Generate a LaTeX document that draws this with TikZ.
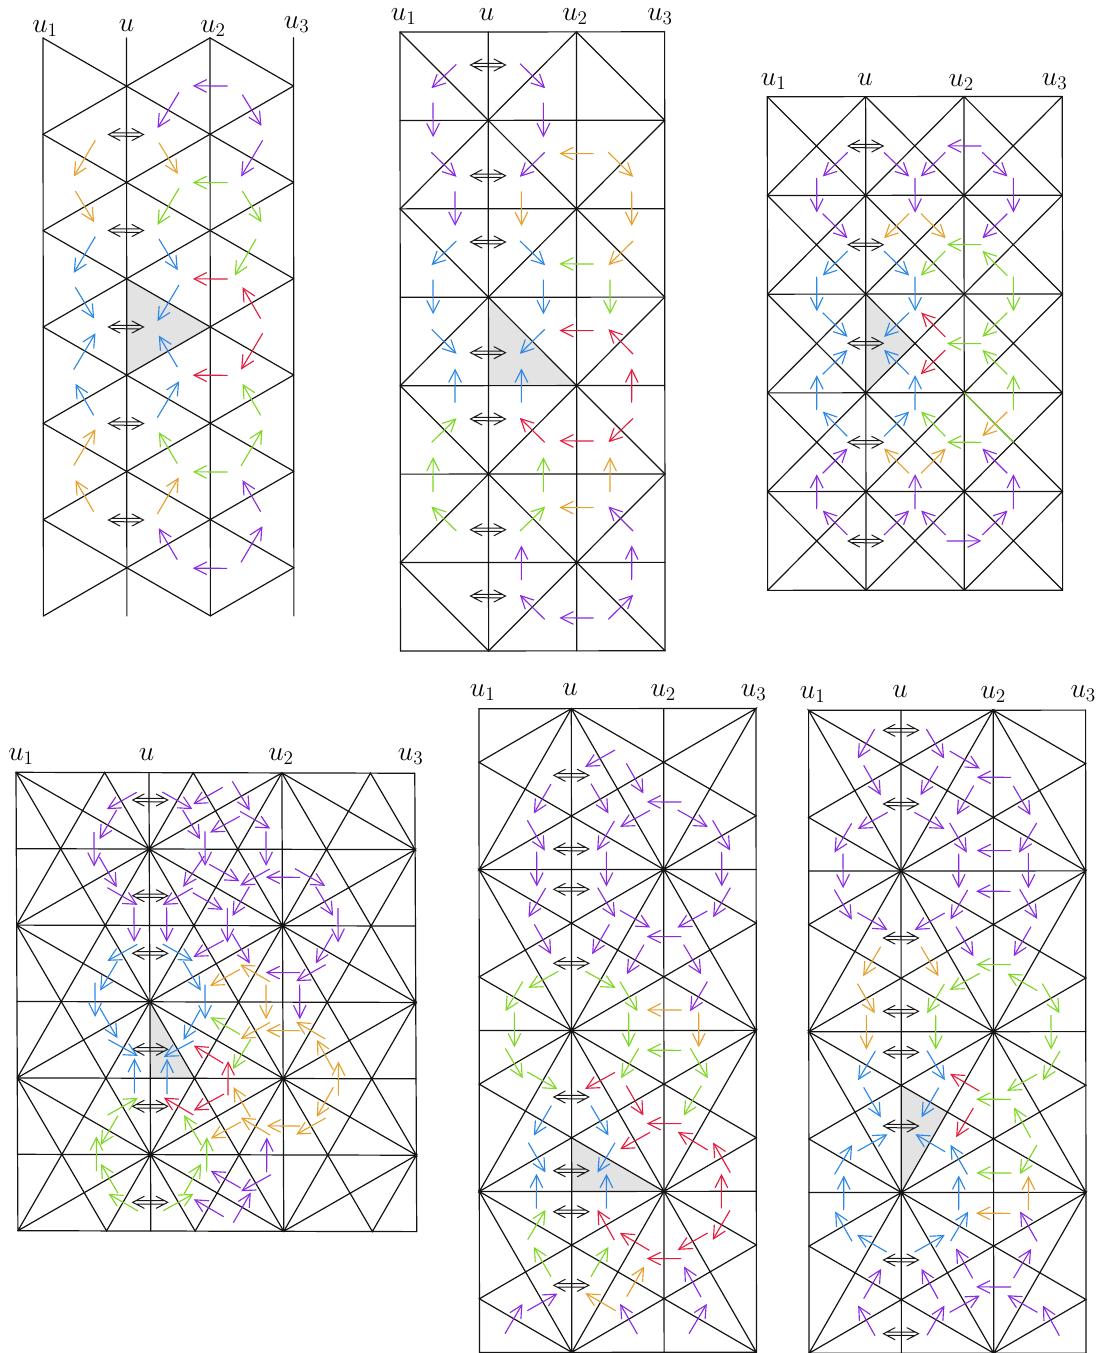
\documentclass[tikz,border=0pt]{standalone}
\usetikzlibrary{arrows.meta}
\definecolor{cpur}{RGB}{138,43,226}
\definecolor{cora}{RGB}{230,160,45}
\definecolor{cgrn}{RGB}{125,215,35}
\definecolor{cblu}{RGB}{45,135,230}
\definecolor{cred}{RGB}{228,28,62}
\definecolor{cgray}{RGB}{227,227,227}
\tikzset{
  gridline/.style={draw=black!92,line width=0.9pt,line cap=round,rotate=0.04},
  arrowline/.style={line width=0.85pt,-{Straight Barb[length=9.5pt,width=9.5pt,line width=0.85pt]}},
  biarrow/.style={draw=black!90,line width=0.75pt,line cap=round,line join=miter},
  shade/.style={fill=cgray,draw=none},
  lab/.style={inner sep=0pt,anchor=base,font=\fontsize{20}{24}\selectfont},
  zoomunits/.style={x=0.25pt,y=-0.25pt},
}
\newcommand\ar[3]{\draw[arrowline,#1] (#2) -- ([xshift=0.1pt,yshift=0.1pt]#3);}
\newcommand\da[2]{\begin{scope}[shift={(#1,#2)}]\draw[biarrow] (-6,-6)--(-17.5,0)--(-6,6) (6,-6)--(17.5,0)--(6,6) (-14,-1.7)--(14,-1.6) (-14,1.7)--(14,1.8);\end{scope}}
\newcommand\zigE[1]{\draw[gridline] (0,#1)--(1,#1+1)--(2,#1)--(3,#1+1);}
\newcommand\zigO[1]{\draw[gridline] (0,#1+1)--(1,#1)--(2,#1+1)--(3,#1);}
\newcommand\patA[1]{\draw[gridline] (1,#1)--(0,#1+1/3)--(2,#1+1)--(1,#1)--(0,#1+1)--(3,#1)--(2,#1+1)--(3,#1+2/3)--(1,#1);}
\newcommand\patB[1]{\draw[gridline] (3,#1+1)--(0,#1)--(1,#1+1)--(2,#1)--(0,#1+2/3)--(1,#1+1)--(3,#1+1/3)--(2,#1)--(3,#1+1);}
\newcommand\rowE[1]{\draw[gridline] (0,#1)--(1/3,#1+1)--(2/3,#1)--(1,#1+1)--(4/3,#1)--(5/3,#1+1)--(2,#1)--(7/3,#1+1)--(8/3,#1)--(3,#1+1)--(2,#1)--(1,#1+1)--(0,#1);}
\newcommand\rowO[1]{\draw[gridline] (0,#1+1)--(1/3,#1)--(2/3,#1+1)--(1,#1)--(4/3,#1+1)--(5/3,#1)--(2,#1+1)--(7/3,#1)--(8/3,#1+1)--(3,#1)--(2,#1+1)--(1,#1)--(0,#1+1);}
\begin{document}
\begin{tikzpicture}[x=0.75pt,y=-0.75pt]
\path[use as bounding box,fill=white] (0,0) rectangle (1102,1353);

%% Panel 1
\begin{scope}[shift={(43,38)},x=62.625pt,y=-36.125pt]
\path[shade] (1,5)--(2,6)--(1,7)--cycle;
\foreach \c in {0,1,2,3} \draw[gridline] (\c,0)--(\c,12);
\foreach \k in {0,2,...,10} {\zigE{\k}}
\foreach \k in {1,3,...,11} {\zigO{\k}}
\end{scope}
\foreach \y in {134.5,230.5,327,423.5,520} {\da{126}{\y}}
\node[lab] (pau1) at (45,32) {$u_1$};
\node[lab] (pau) at (126.5,31) {$u$};
\node[lab] (pau2) at (213,32) {$u_2$};
\node[lab] (pau3) at (296.7,28.5) {$u_3$};
\begin{scope}[zoomunits]
\ar{cpur}{683,258}{578,258}\ar{cpur}{537,277}{472,385}\ar{cpur}{727,284}{784,378}\ar{cpur}{788,421}{723,530}
\ar{cora}{286,421}{221,530}\ar{cora}{477,428}{533,522}\ar{cora}{226,573}{282,667}
\ar{cgrn}{683,548}{578,548}\ar{cgrn}{537,565}{472,675}\ar{cgrn}{727,573}{784,667}\ar{cgrn}{768,717}{704,827}
\ar{cblu}{286,710}{221,819}\ar{cblu}{477,717}{533,811}\ar{cblu}{226,862}{282,956}\ar{cblu}{537,855}{472,964}
\ar{cred}{683,837}{578,837}\ar{cred}{782,956}{727,862}
\end{scope}
\begin{scope}[shift={(0,310)},zoomunits]
\ar{cred}{788,70}{723,179}\ar{cred}{683,196}{578,196}
\ar{cblu}{221,179}{286,70}\ar{cblu}{532,171}{476,77}\ar{cblu}{281,316}{226,222}\ar{cblu}{472,323}{537,214}
\ar{cgrn}{782,316}{727,222}\ar{cgrn}{532,461}{476,367}\ar{cgrn}{723,468}{787,359}\ar{cgrn}{683,486}{578,486}
\ar{cora}{221,467}{286,358}\ar{cora}{281,605}{226,511}\ar{cora}{472,612}{536,503}
\ar{cpur}{782,605}{727,511}\ar{cpur}{532,749}{476,655}\ar{cpur}{723,757}{787,649}\ar{cpur}{681,775}{578,775}
\end{scope}

%% Panel 2
\begin{scope}[shift={(400,32)},x=66.15pt,y=-66.32pt]
\path[shade] (1,3)--(2,4)--(1,4)--cycle;
\foreach \c in {0,1,2,3} \draw[gridline] (\c,0)--(\c,7);
\foreach \k in {0,...,7} \draw[gridline] (0,\k)--(3,\k);
\foreach \k in {0,2,4,6} {\zigE{\k}}
\foreach \k in {1,3,5} {\zigO{\k}}
\end{scope}
\foreach \y in {65,175.7,242,352.7,419,529.7,596} {\da{488}{\y}}
\node[lab] (pbu1) at (403.7,20.7) {$u_1$};
\node[lab] (pbu) at (486.7,20) {$u$};
\node[lab] (pbu2) at (575,20.7) {$u_2$};
\node[lab] (pbu3) at (660,20) {$u_3$};
\begin{scope}[shift={(380,0)},zoomunits]
\ar{cpur}{229,193}{154,265}\ar{cpur}{420,191}{495,265}\ar{cpur}{159,308}{159,412}\ar{cpur}{490,308}{490,412}
\ar{cpur}{154,457}{229,531}\ar{cpur}{494,457}{419,531}\ar{cpur}{225,574}{225,678}
\ar{cora}{641,461}{538,461}\ar{cora}{685,457}{759,531}\ar{cora}{424,574}{424,678}\ar{cora}{755,574}{755,678}\ar{cora}{759,723}{685,796}
\ar{cblu}{229,723}{154,796}\ar{cblu}{420,723}{495,796}\ar{cblu}{159,839}{159,943}\ar{cblu}{490,839}{490,943}
\ar{cgrn}{641,792}{538,792}\ar{cgrn}{690,839}{690,943}
\end{scope}
\begin{scope}[shift={(380,330)},zoomunits]
\ar{cblu}{155,-2}{229,72}\ar{cblu}{494,-2}{419,72}\ar{cblu}{225,218}{225,116}\ar{cblu}{424,218}{424,116}
\ar{cred}{641,2}{538,2}\ar{cred}{759,72}{685,-2}\ar{cred}{755,218}{755,116}\ar{cred}{759,265}{685,337}\ar{cred}{494,337}{419,264}\ar{cred}{641,333}{538,333}
\ar{cgrn}{155,337}{229,265}\ar{cgrn}{159,486}{159,382}\ar{cgrn}{490,486}{490,382}\ar{cgrn}{229,603}{154,530}\ar{cgrn}{420,603}{495,530}
\ar{cora}{690,486}{690,382}\ar{cora}{641,533}{538,533}
\ar{cpur}{759,603}{685,530}\ar{cpur}{424,750}{424,647}\ar{cpur}{755,750}{755,647}\ar{cpur}{494,868}{419,795}\ar{cpur}{685,868}{759,795}\ar{cpur}{641,864}{538,864}
\end{scope}

%% Panel 3
\begin{scope}[shift={(767.3,96.7)},x=73.75pt,y=-74.05pt]
\path[shade] (1,2)--(1.5,2.5)--(1,3)--cycle;
\foreach \c in {0,1,2,3} \draw[gridline] (\c,0)--(\c,5);
\foreach \k in {0,...,5} \draw[gridline] (0,\k)--(3,\k);
\foreach \k in {0,...,4} \foreach \c in {0,1,2} \draw[gridline] (\c,\k)--(\c+1,\k+1) (\c+1,\k)--(\c,\k+1);
\draw[gridline,draw=cgrn] (2,3)--(2.5,3.5);
\end{scope}
\foreach \y in {146,244.7,343.3,442.3,541} {\da{865.7}{\y}}
\node[lab] (pcu1) at (773.7,85.7) {$u_1$};
\node[lab] (pcu) at (865,85) {$u$};
\node[lab] (pcu2) at (961.3,86) {$u_2$};
\node[lab] (pcu3) at (1054.7,85) {$u_3$};
\begin{scope}[shift={(750,60)},zoomunits]
\ar{cpur}{293,277}{218,350}\ar{cpur}{200,354}{200,458}\ar{cpur}{218,461}{292,535}\ar{cpur}{402,277}{477,350}\ar{cpur}{586,277}{512,350}
\ar{cpur}{495,354}{495,458}\ar{cpur}{694,258}{591,258}\ar{cpur}{697,277}{772,350}\ar{cpur}{790,354}{790,458}\ar{cpur}{772,461}{697,535}
\ar{cora}{477,461}{402,535}\ar{cora}{513,461}{587,535}
\ar{cgrn}{694,554}{591,554}\ar{cgrn}{586,573}{512,647}\ar{cgrn}{772,647}{697,573}\ar{cgrn}{790,650}{790,754}\ar{cgrn}{772,758}{697,831}
\ar{cblu}{293,573}{218,647}\ar{cblu}{402,573}{477,647}\ar{cblu}{200,650}{200,754}\ar{cblu}{495,650}{495,754}\ar{cblu}{218,758}{292,831}\ar{cblu}{477,758}{402,831}
\ar{cred}{586,831}{513,758}
\end{scope}
\begin{scope}[shift={(750,330)},zoomunits]
\ar{cred}{586,60}{512,133}
\ar{cgrn}{694,41}{591,41}\ar{cgrn}{772,133}{697,60}\ar{cgrn}{790,240}{790,136}\ar{cgrn}{586,319}{513,245}\ar{cgrn}{694,337}{591,337}
\ar{cblu}{218,133}{292,60}\ar{cblu}{477,133}{402,60}\ar{cblu}{200,240}{200,136}\ar{cblu}{495,240}{495,136}\ar{cblu}{292,319}{218,245}\ar{cblu}{402,319}{477,245}
\ar{cora}{772,245}{697,319}\ar{cora}{477,430}{402,356}\ar{cora}{513,430}{587,356}
\ar{cpur}{218,430}{292,356}\ar{cpur}{200,537}{200,433}\ar{cpur}{495,537}{495,433}\ar{cpur}{790,537}{790,433}\ar{cpur}{772,430}{697,356}
\ar{cpur}{292,615}{218,542}\ar{cpur}{402,615}{477,542}\ar{cpur}{587,615}{513,542}\ar{cpur}{697,615}{772,542}\ar{cpur}{590,633}{694,633}
\end{scope}

%% Panel 4
\begin{scope}[shift={(16,772.3)},x={(99.7pt,-0.3pt)},y={(0.2pt,-57.3pt)}]
\path[shade] (1,3)--(4/3,4)--(1,4)--cycle;
\foreach \c in {0,1,2,3} \draw[gridline] (\c,0)--(\c,6);
\foreach \k in {0,...,6} \draw[gridline] (0,\k)--(3,\k);
\foreach \k in {0,2,4} {\rowE{\k}}
\foreach \k in {1,3,5} {\rowO{\k}}
\end{scope}
\foreach \y in {800,895.7,953.3,1049.3,1106.3,1202.3} {\da{150.2}{\y}}
\node[lab] (pdu1) at (21,760.7) {$u_1$};
\node[lab] (pdu) at (146.7,760.7) {$u$};
\node[lab] (pdu2) at (281,760.7) {$u_2$};
\node[lab] (pdu3) at (410.7,760.7) {$u_3$};
\begin{scope}[shift={(0,740)},zoomunits]
\ar{cpur}{410,157}{320,208}\ar{cpur}{350,210}{298,298}\ar{cpur}{282,276}{282,380}\ar{cpur}{298,351}{350,442}\ar{cpur}{322,443}{412,495}
\ar{cpur}{402,502}{402,606}\ar{cpur}{500,502}{500,606}\ar{cpur}{487,156}{577,208}\ar{cpur}{548,210}{600,298}\ar{cpur}{668,142}{579,193}
\ar{cpur}{697,124}{749,212}\ar{cpur}{719,229}{630,278}\ar{cpur}{720,214}{810,266}\ar{cpur}{615,274}{615,378}\ar{cpur}{798,274}{798,378}
\ar{cpur}{900,412}{797,412}\ar{cpur}{885,386}{975,438}\ar{cpur}{947,440}{999,528}\ar{cpur}{1014,504}{1014,608}\ar{cpur}{998,582}{947,671}
\ar{cpur}{977,674}{888,724}\ar{cpur}{809,387}{720,437}\ar{cpur}{748,440}{697,528}\ar{cpur}{628,373}{718,424}\ar{cpur}{613,348}{549,441}
\ar{cpur}{578,444}{488,495}\ar{cpur}{578,458}{668,510}\ar{cpur}{682,504}{682,608}\ar{cpur}{697,582}{749,671}\ar{cpur}{671,601}{580,651}\ar{cpur}{900,698}{797,698}
\ar{cblu}{412,613}{322,663}\ar{cblu}{352,664}{300,752}\ar{cblu}{488,612}{578,663}\ar{cblu}{550,664}{602,752}
\ar{cora}{720,688}{630,738}\ar{cora}{810,725}{720,674}
\end{scope}
\begin{scope}[shift={(0,990)},zoomunits]
\ar{cpur}{899,-16}{899,88}
\ar{cblu}{285,-22}{285,81}\ar{cblu}{615,-16}{615,88}
\ar{cora}{798,-16}{798,88}
\ar{cblu}{300,55}{352,145}\ar{cblu}{600,60}{550,150}\ar{cblu}{325,149}{413,198}\ar{cblu}{581,152}{491,201}\ar{cblu}{403,310}{403,205}\ar{cblu}{501,312}{501,207}
\ar{cgrn}{720,133}{631,82}\ar{cgrn}{752,148}{698,238}\ar{cgrn}{323,375}{413,324}\ar{cgrn}{354,377}{302,465}\ar{cgrn}{289,543}{289,440}
\ar{cgrn}{354,610}{302,522}\ar{cgrn}{414,663}{325,612}\ar{cgrn}{490,662}{580,612}\ar{cgrn}{552,612}{603,522}\ar{cgrn}{620,545}{620,442}\ar{cgrn}{604,465}{552,376}
\ar{cora}{810,97}{722,147}\ar{cora}{900,122}{798,122}\ar{cora}{976,147}{888,96}\ar{cora}{1015,317}{1015,215}\ar{cora}{1000,240}{950,150}
\ar{cora}{1000,292}{950,381}\ar{cora}{977,384}{888,434}\ar{cora}{900,408}{800,408}\ar{cora}{810,435}{722,383}\ar{cora}{751,381}{700,292}\ar{cora}{722,396}{632,446}
\ar{cred}{670,220}{581,167}\ar{cred}{684,316}{684,214}\ar{cred}{672,312}{581,362}\ar{cred}{580,375}{491,323}
\ar{cpur}{800,547}{800,443}\ar{cpur}{813,554}{723,604}\ar{cpur}{722,594}{632,543}\ar{cpur}{700,698}{752,608}\ar{cpur}{671,680}{581,628}
\end{scope}

%% Panel 5
\begin{scope}[shift={(479,708.7)},x=69.25pt,y=-120.7pt]
\path[shade] (1,8/3)--(2,3)--(1,3)--cycle;
\foreach \c in {0,1,2,3} \draw[gridline] (\c,0)--(\c,4);
\foreach \k in {0,...,4} \draw[gridline] (0,\k)--(3,\k);
\foreach \k in {0,2} {\patA{\k}}
\foreach \k in {1,3} {\patB{\k}}
\end{scope}
\foreach \y in {775.3,849,889.3,963.3,1097,1170.7,1211.7,1285.3} {\da{571.3}{\y}}
\node[lab] (peu1) at (482.7,696) {$u_1$};
\node[lab] (peu) at (570,695.7) {$u$};
\node[lab] (peu2) at (663.3,696.7) {$u_2$};
\node[lab] (peu3) at (753.7,696.7) {$u_3$};
\begin{scope}[shift={(465,680)},zoomunits]
\ar{cpur}{450,210}{360,261}\ar{cpur}{484,250}{535,341}\ar{cpur}{649,366}{545,366}\ar{cpur}{555,391}{465,441}\ar{cpur}{638,390}{728,441}
\ar{cpur}{743,421}{795,512}\ar{cpur}{770,516}{770,620}\ar{cpur}{796,623}{744,712}\ar{cpur}{727,693}{637,743}\ar{cpur}{649,770}{545,770}
\ar{cpur}{465,691}{555,743}\ar{cpur}{378,311}{430,401}\ar{cpur}{258,312}{206,401}\ar{cpur}{187,421}{239,512}\ar{cpur}{215,515}{215,620}
\ar{cpur}{448,423}{396,512}\ar{cpur}{424,515}{424,620}\ar{cpur}{242,624}{190,712}\ar{cpur}{398,623}{450,712}\ar{cpur}{208,733}{258,823}
\ar{cpur}{433,733}{381,823}\ar{cpur}{537,794}{485,883}\ar{cpur}{656,794}{708,883}\ar{cpur}{727,905}{675,994}
\ar{cgrn}{280,874}{190,924}\ar{cgrn}{173,905}{121,994}\ar{cgrn}{361,874}{451,924}\ar{cgrn}{465,905}{517,994}
\ar{cora}{650,990}{545,990}
\end{scope}
\begin{scope}[shift={(465,1015)},zoomunits]
\ar{cgrn}{148,-8}{148,97}\ar{cgrn}{491,-8}{491,97}\ar{cora}{701,-8}{701,97}
\ar{cgrn}{648,106}{545,106}\ar{cgrn}{521,100}{468,190}\ar{cgrn}{121,100}{173,190}\ar{cgrn}{187,171}{277,223}\ar{cgrn}{676,100}{728,190}\ar{cgrn}{709,212}{656,302}
\ar{cred}{450,172}{360,222}\ar{cred}{484,212}{535,302}\ar{cred}{649,326}{545,326}\ar{cred}{555,352}{465,403}\ar{cred}{728,405}{638,351}
\ar{cred}{796,473}{744,383}\ar{cred}{769,580}{769,477}\ar{cred}{795,586}{743,675}\ar{cred}{728,654}{638,705}\ar{cred}{648,731}{545,731}\ar{cred}{553,706}{464,654}\ar{cred}{448,675}{397,585}
\ar{cblu}{259,272}{206,362}\ar{cblu}{378,272}{430,362}\ar{cblu}{190,383}{241,473}\ar{cblu}{450,383}{397,473}\ar{cblu}{214,581}{214,477}\ar{cblu}{424,581}{424,477}
\ar{cgrn}{188,674}{241,585}\ar{cgrn}{258,785}{206,696}\ar{cgrn}{378,785}{430,696}
\ar{cora}{485,845}{537,755}\ar{cora}{452,887}{361,835}
\ar{cpur}{120,956}{172,867}\ar{cpur}{187,887}{277,836}\ar{cpur}{517,957}{465,867}\ar{cpur}{708,846}{657,755}\ar{cpur}{672,956}{725,867}
\end{scope}

%% Panel 6
\begin{scope}[shift={(808.6,710.3)},x=69.25pt,y=-120.56pt]
\path[shade] (1,7/3)--(1.5,2.5)--(1,3)--cycle;
\foreach \c in {0,1,2,3} \draw[gridline] (\c,0)--(\c,4);
\foreach \k in {0,...,4} \draw[gridline] (0,\k)--(3,\k);
\foreach \k in {0,2} {\patB{\k}}
\foreach \k in {1,3} {\patA{\k}}
\end{scope}
\foreach \y in {730.3,804,938,1011.3,1052.3,1126,1260,1333.7} {\da{901}{\y}}
\node[lab] (pfu1) at (812.7,698) {$u_1$};
\node[lab] (pfu) at (900,697.3) {$u$};
\node[lab] (pfu2) at (993.3,698.3) {$u_2$};
\node[lab] (pfu3) at (1083.3,697.7) {$u_3$};
\begin{scope}[shift={(790,680)},zoomunits]
\ar{cpur}{254,147}{203,236}\ar{cpur}{409,147}{462,236}\ar{cpur}{479,213}{569,266}\ar{cpur}{663,292}{560,292}\ar{cpur}{551,317}{500,405}
\ar{cpur}{670,318}{721,406}\ar{cpur}{740,429}{687,518}\ar{cpur}{664,512}{560,512}\ar{cpur}{479,429}{530,518}\ar{cpur}{221,256}{272,346}
\ar{cpur}{444,258}{391,346}\ar{cpur}{293,397}{203,447}\ar{cpur}{373,397}{463,447}\ar{cpur}{185,430}{133,518}\ar{cpur}{159,521}{159,625}
\ar{cpur}{506,521}{506,625}\ar{cpur}{715,519}{715,625}\ar{cpur}{133,629}{185,719}\ar{cpur}{202,698}{292,750}\ar{cpur}{464,699}{374,750}
\ar{cpur}{533,630}{481,719}\ar{cpur}{662,634}{558,634}\ar{cpur}{689,628}{741,717}\ar{cpur}{723,740}{671,829}\ar{cpur}{498,740}{550,829}
\ar{cora}{272,800}{219,889}\ar{cora}{393,800}{445,889}\ar{cora}{202,911}{254,1000}
\ar{cgrn}{663,854}{558,854}\ar{cgrn}{569,880}{479,930}\ar{cgrn}{742,932}{652,881}\ar{cgrn}{463,912}{411,1000}\ar{cgrn}{757,911}{808,1000}
\end{scope}
\begin{scope}[shift={(790,1015)},zoomunits]
\ar{cora}{229,0}{229,104}\ar{cgrn}{437,0}{437,104}\ar{cgrn}{783,0}{783,104}
\ar{cblu}{256,108}{204,196}\ar{cblu}{411,107}{464,196}\ar{cblu}{221,217}{272,307}\ar{cblu}{446,218}{394,307}\ar{cblu}{203,408}{292,358}\ar{cblu}{465,410}{376,358}
\ar{cblu}{134,478}{186,390}\ar{cblu}{532,478}{481,390}\ar{cblu}{161,585}{161,482}\ar{cblu}{506,585}{506,482}\ar{cblu}{186,679}{135,590}\ar{cblu}{290,711}{201,660}\ar{cblu}{374,711}{464,660}\ar{cblu}{482,678}{534,590}
\ar{cred}{568,228}{480,177}\ar{cred}{550,279}{498,367}
\ar{cgrn}{810,108}{758,196}\ar{cgrn}{741,178}{651,228}\ar{cgrn}{663,253}{558,253}\ar{cgrn}{722,368}{672,278}\ar{cgrn}{741,390}{689,478}\ar{cgrn}{664,474}{559,474}
\ar{cora}{715,585}{715,483}\ar{cora}{662,595}{558,595}
\ar{cpur}{741,679}{690,590}\ar{cpur}{548,790}{498,701}\ar{cpur}{671,789}{723,702}\ar{cpur}{663,816}{558,816}\ar{cpur}{444,851}{394,762}\ar{cpur}{221,851}{273,762}
\ar{cpur}{255,962}{204,872}\ar{cpur}{411,961}{463,872}\ar{cpur}{479,892}{569,842}\ar{cpur}{742,892}{652,841}\ar{cpur}{808,962}{758,872}
\end{scope}
\end{tikzpicture}
\end{document}
